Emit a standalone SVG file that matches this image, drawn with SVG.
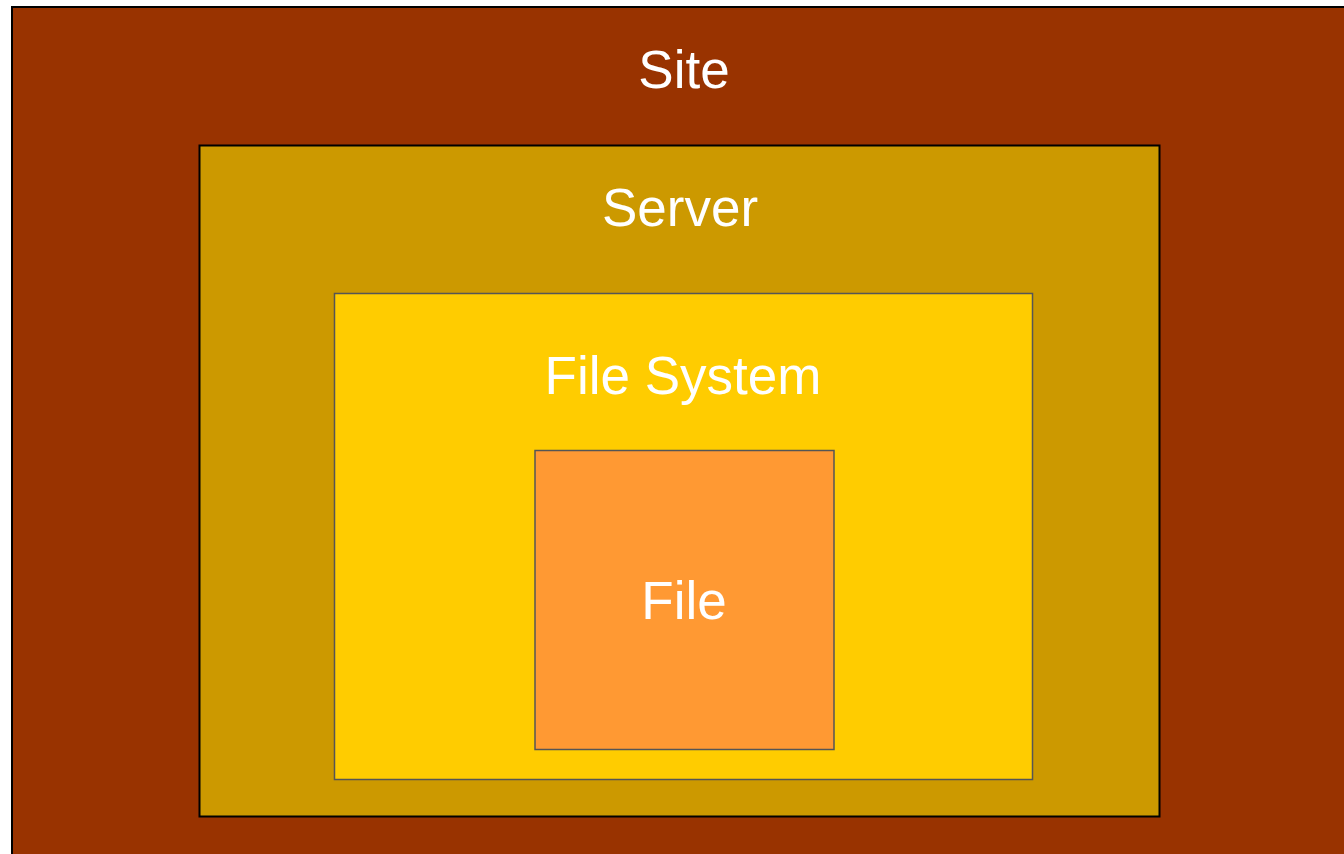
<svg xmlns="http://www.w3.org/2000/svg" width="1344" height="854" viewBox="0 0 1344 854">
<style>
.lbl{font-family:"Liberation Sans",Arial,sans-serif;font-size:53px;fill:#ffffff;text-anchor:middle}
</style>
<rect width="1344" height="854" fill="#ffffff"/>
<g id="site">
<rect x="12" y="7" width="1345" height="860" fill="#993300" stroke="#000" stroke-width="2"/>
<text class="lbl" x="684" y="88">Site</text>
</g>
<g id="server">
<rect x="199.5" y="145.5" width="960" height="671" fill="#cc9900" stroke="#000" stroke-width="2"/>
<text class="lbl" x="680" y="226">Server</text>
</g>
<g id="filesystem">
<rect x="334.5" y="293.5" width="698" height="486" fill="#ffcc00" stroke="#555555" stroke-width="1.5"/>
<text class="lbl" x="683" y="394">File System</text>
</g>
<g id="file">
<rect x="535" y="450.5" width="299" height="299" fill="#ff9933" stroke="#555555" stroke-width="1.5"/>
<text class="lbl" x="684" y="619">File</text>
</g>
<g id="connectors"/>
</svg>
